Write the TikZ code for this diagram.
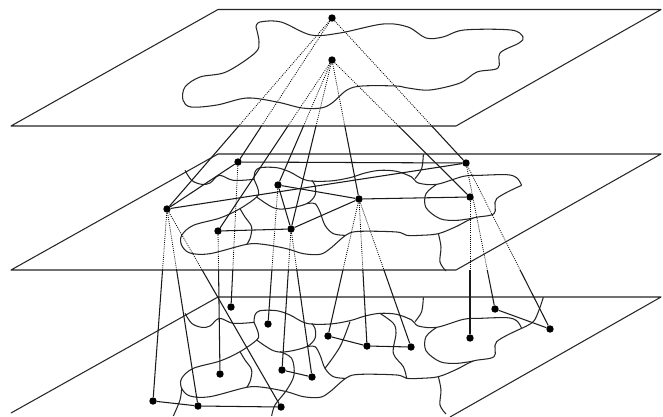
\documentclass[tikz,border=0pt]{standalone}
\tikzset{
  dot/.style={circle,fill=black,draw=none,inner sep=0pt,minimum size=7.4pt},
  hidden/.style={line width=.8pt,dash pattern=on .9pt off 1.2pt,black},
  edge/.style={line width=1.05pt,black!90},
  regionline/.style={line width=1.05pt,black!85,line join=round},
  mapscope/.style={x=.33333pt,y=-.33333pt,xshift=130pt,yshift=#1},
}
% connector: dotted down to the front edge of the upper plane, solid below it
\newcommand{\lnk}[3]{%
  \begin{scope}\clip (-5,-5) rectangle (700,#3);\draw[hidden] (#1) -- (#2);\end{scope}%
  \begin{scope}\clip (-5,#3) rectangle (700,500);\draw[edge] (#1) -- (#2);\end{scope}}
\newcommand{\cur}[1]{\draw[regionline] plot[smooth,tension=.55] coordinates {#1};}
\newcommand{\commonmap}{%
  \cur{(165,100)(185,130)(215,142)(240,138)(268,115)(310,130)(372,127)}
  \cur{(372,127)(375,105)(390,92)(440,92)(480,105)(530,130)(600,132)(660,122)(705,108)(750,100)(800,103)(845,120)(865,138)(920,142)(1000,118)(1050,115)(1130,113)(1160,122)(1175,145)}
  \cur{(1175,145)(1100,185)(1092,230)(1030,243)(980,268)(925,290)(870,295)(830,295)(800,285)(690,283)(650,293)(600,335)(570,352)(520,350)(470,335)(400,322)(350,322)(240,350)(180,348)(155,325)(155,295)(190,265)(270,243)(330,215)(380,180)(385,160)(372,127)}
  \cur{(380,180)(430,212)(470,215)(530,200)(555,175)(555,145)(545,130)}
  \cur{(530,200)(555,200)(570,225)(585,265)(610,290)(645,295)}
  \cur{(330,215)(345,240)(365,270)(360,305)(350,322)}
  \cur{(920,142)(888,170)(888,212)(930,245)(980,250)(1030,243)}
  \cur{(880,52)(875,95)(855,125)}
  \cur{(925,290)(933,330)(930,375)(948,402)}
}
\begin{document}
\begin{tikzpicture}[x=1pt,y=-1pt]
\useasboundingbox (0,0) rectangle (663,416);
\clip (0,0) rectangle (663,416);
\fill[white] (0,0) rectangle (663,416);
% planes
\draw[regionline] (218,9.5) -- (661,9.5) -- (456,126) -- (11,126) -- cycle;
\draw[regionline] (218,154) -- (661,154) -- (456,270) -- (11,270) -- cycle;
\draw[regionline] (11,413) -- (218,297) -- (661,297) -- (450,417);
% top map
\cur{(256,27)(260,22)(281,22)(311,35)(340,33)(383,24)(408,27)(426,38)(443,37)(464,30)(511,30)(523,37)(519,43)(500,53)(498,68)(477,72)(460,83)(430,90)(408,88)(396,86)(362,86)(347,90)(332,103)(321,108)(302,108)(277,102)(247,98)(217,105)(191,107)(183,100)(185,87)(200,77)(226,72)(255,53)(259,42)(256,27)}
% middle and bottom maps
\begin{scope}[mapscope=-137pt]\commonmap\end{scope}
\begin{scope}[mapscope=-280pt]\commonmap
  \cur{(585,265)(630,200)(660,125)}
  \cur{(450,215)(485,235)(492,285)(470,330)(435,375)(425,408)}
  \cur{(155,325)(150,360)(130,408)}
  \cur{(750,100)(790,130)(798,160)(790,220)(820,260)(830,295)}
  \cur{(1240,52)(1227,90)(1210,125)(1175,145)}
\end{scope}
% nodes
\node[dot] (a1) at (332,18) {};
\node[dot] (a2) at (332,60) {};
\node[dot] (m1) at (238,162) {};
\node[dot] (m2) at (466,163) {};
\node[dot] (m3) at (167,209) {};
\node[dot] (m4) at (278,185) {};
\node[dot] (m5) at (359,199) {};
\node[dot] (m6) at (470,197) {};
\node[dot] (m7) at (218,231) {};
\node[dot] (m8) at (291,229) {};
\node[dot] (b1) at (231,307) {};
\node[dot] (b2) at (268,324) {};
\node[dot] (b3) at (328,336) {};
\node[dot] (b4) at (367,346) {};
\node[dot] (b5) at (411,347) {};
\node[dot] (b6) at (470,338) {};
\node[dot] (b7) at (495,309) {};
\node[dot] (b8) at (550,329) {};
\node[dot] (b9) at (220,374) {};
\node[dot] (b10) at (282,370) {};
\node[dot] (b11) at (312,377) {};
\node[dot] (b12) at (153,401) {};
\node[dot] (b13) at (198,406) {};
\node[dot] (b14) at (281,407) {};
% top to middle
\lnk{a1}{m3}{126} \lnk{a1}{m1}{126} \lnk{a1}{m2}{126}
\lnk{a2}{m7}{126} \lnk{a2}{m4}{126} \lnk{a2}{m8}{126} \lnk{a2}{m5}{126} \lnk{a2}{m6}{126}
% middle to bottom
\lnk{m3}{b12}{270} \lnk{m3}{b13}{270} \lnk{m3}{b14}{270}
\lnk{m7}{b9}{270} \lnk{m1}{b1}{270} \lnk{m4}{b2}{270}
\lnk{m8}{b10}{270} \lnk{m8}{b11}{270}
\lnk{m5}{b3}{270} \lnk{m5}{b4}{270} \lnk{m5}{b5}{270}
\lnk{m6}{b6}{270} \lnk{m2}{b7}{270} \lnk{m2}{b8}{270}
% links within the middle plane
\draw[edge] (m1) -- (m2);
\draw[edge] (m3) -- (m1);
\draw[edge] (m3) -- (m2);
\draw[edge] (m4) -- (m5);
\draw[edge] (m4) -- (m8);
\draw[edge] (m7) -- (m8);
\draw[edge] (m8) -- (m5);
\draw[edge] (m5) -- (m6);
% links within the bottom plane
\draw[edge] (b12) -- (b13);
\draw[edge] (b13) -- (b14);
\draw[edge] (b10) -- (b11);
\draw[edge] (b3) -- (b4);
\draw[edge] (b4) -- (b5);
\draw[edge] (b7) -- (b8);
\end{tikzpicture}
\end{document}
